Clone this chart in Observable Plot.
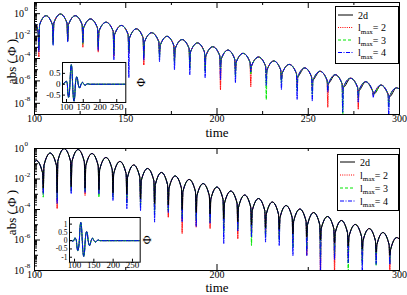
<!DOCTYPE html>
<html><head><meta charset="utf-8">
<script src="https://cdn.jsdelivr.net/npm/d3@7"></script>
<script src="https://cdn.jsdelivr.net/npm/@observablehq/plot@0.6"></script>
<style>
body{margin:0;background:#fff;}
#wrap{position:relative;width:407px;height:295px;overflow:hidden;font-family:'Liberation Serif','DejaVu Serif',serif;}
.abs{position:absolute;}
#wrap svg, #wrap svg text{font-family:'Liberation Serif','DejaVu Serif',serif !important;}
</style></head><body><div id="wrap"></div>
<script>
// ---------- DATA ----------
// Top panel: shared arch points [time, log10|Phi|]
const topEnvelope = [
[100,-0.85],[101.2,-1.1],[102.0,-1.7],
[102.8,-0.98],[106.3,-0.18],[109.8,-0.98],
[110.6,-0.83],[114.2,-0.03],[117.8,-0.83],
[118.6,-0.98],[122.35,-0.18],[126.1,-0.98],
[126.9,-1.27],[130.7,-0.47],[134.5,-1.27],
[135.3,-1.56],[139.2,-0.76],[143.1,-1.56],
[143.9,-1.85],[147.6,-1.05],[151.3,-1.85],
[152.1,-2.15],[155.8,-1.35],[159.5,-2.15],
[160.3,-2.5],[164.2,-1.7],[168.1,-2.5],
[168.9,-2.82],[172.6,-2.02],[176.3,-2.82],
[177.1,-3.11],[180.9,-2.31],[184.7,-3.11],
[185.5,-3.41],[189.3,-2.61],[193.1,-3.41],
[193.9,-3.75],[197.7,-2.95],[201.5,-3.75],
[202.3,-4.05],[206.0,-3.25],[209.7,-4.05],
[210.5,-4.34],[214.3,-3.54],[218.1,-4.34],
[218.9,-4.67],[222.75,-3.87],[226.6,-4.67],
[227.4,-5.02],[231.15,-4.22],[234.9,-5.02],
[235.7,-5.33],[239.6,-4.53],[243.5,-5.33],
[244.3,-5.64],[248.05,-4.84],[251.8,-5.64],
[252.6,-5.94],[256.45,-5.14],[260.3,-5.94],
[261.1,-6.25],[264.8,-5.45],[268.5,-6.25],
[269.3,-6.56],[273.15,-5.76],[277.0,-6.56],
[277.8,-6.87],[281.5,-6.07],[285.2,-6.87],
[286.0,-7.17],[289.85,-6.37],[293.7,-7.17],
[294.5,-7.42],[298.3,-6.62],[300,-6.72]
];
// Top panel: zero crossings and the log10 depth each series reaches there
const topZeros = [102.4,110.2,118.2,126.5,134.9,143.5,151.7,159.9,168.5,176.7,185.1,193.5,201.9,210.1,218.5,227.0,235.3,243.9,252.2,260.7,268.9,277.4,285.6,294.1];
const topDip2d = [-2.9,-2.4,-2.3,-2.5,-2.9,-3.3,-3.2,-3.5,-3.4,-3.8,-4.3,-4.2,-4.6,-4.9,-5.0,-5.3,-5.9,-5.7,-6.0,-6.3,-6.5,-6.9,-7.0,-7.3];
const topDipL2 = [-3.84,-2.6,-2.4,-2.99,-3.43,-3.8,-3.5,-4.57,-3.6,-4.2,-4.6,-4.8,-6.77,-5.2,-6.51,-5.6,-5.8,-6.3,-6.6,-8.35,-7.2,-8.53,-7.3,-7.8];
const topDipL3 = [-3.1,-2.75,-2.45,-2.7,-3.0,-3.6,-3.4,-3.8,-3.9,-4.4,-4.9,-5.2,-5.0,-5.6,-5.4,-7.65,-6.2,-6.9,-7.2,-6.8,-9.2,-7.5,-7.2,-8.3];
const topDipL4 = [-3.4,-2.81,-2.52,-2.6,-3.25,-4.13,-5.71,-4.13,-4.28,-5.01,-5.45,-5.71,-5.89,-6.15,-5.2,-6.4,-6.77,-7.65,-7.8,-7.0,-8.8,-7.9,-7.47,-9.2];

// Bottom panel
const botEnvelope = [
[100,-0.88],[101.0,-0.79],[104.4,-1.59],
[105.2,-1.10],[108.6,-0.30],[112.0,-1.10],
[112.8,-0.81],[116.25,-0.01],[119.7,-0.81],
[120.5,-0.87],[123.9,-0.07],[127.3,-0.87],
[128.1,-1.13],[131.5,-0.33],[134.9,-1.13],
[135.7,-1.39],[139.15,-0.59],[142.6,-1.39],
[143.4,-1.65],[146.8,-0.85],[150.2,-1.65],
[151.0,-1.88],[154.35,-1.08],[157.7,-1.88],
[158.5,-2.11],[161.95,-1.31],[165.4,-2.11],
[166.2,-2.37],[169.55,-1.57],[172.9,-2.37],
[173.7,-2.60],[177.1,-1.80],[180.5,-2.60],
[181.3,-2.83],[184.75,-2.03],[188.2,-2.83],
[189.0,-3.10],[192.4,-2.30],[195.8,-3.10],
[196.6,-3.33],[199.95,-2.53],[203.3,-3.33],
[204.1,-3.59],[207.55,-2.79],[211.0,-3.59],
[211.8,-3.85],[215.15,-3.05],[218.5,-3.85],
[219.3,-4.08],[222.75,-3.28],[226.2,-4.08],
[227.0,-4.31],[230.35,-3.51],[233.7,-4.31],
[234.5,-4.54],[237.85,-3.74],[241.2,-4.54],
[242.0,-4.77],[245.4,-3.97],[248.8,-4.77],
[249.6,-5.00],[252.95,-4.20],[256.3,-5.00],
[257.1,-5.26],[260.55,-4.46],[264.0,-5.26],
[264.8,-5.52],[268.15,-4.72],[271.5,-5.52],
[272.3,-5.78],[275.75,-4.98],[279.2,-5.78],
[280.0,-6.05],[283.4,-5.25],[286.8,-6.05],
[287.6,-6.31],[290.95,-5.51],[294.3,-6.31],
[295.1,-6.64],[298.5,-5.84],[300,-5.95]
];
const botZeros = [104.8,112.4,120.1,127.7,135.3,143.0,150.6,158.1,165.8,173.3,180.9,188.6,196.2,203.7,211.4,218.9,226.6,234.1,241.6,249.2,256.7,264.4,271.9,279.6,287.2,294.7];
const botDip2d = [-2.6,-2.9,-2.5,-2.6,-2.7,-2.9,-3.0,-3.3,-3.6,-3.7,-4.0,-4.2,-4.3,-4.6,-4.8,-5.0,-5.2,-5.3,-5.6,-5.8,-6.0,-6.2,-6.4,-6.6,-6.8,-7.0];
const botDipL2 = [-2.9,-3.93,-2.7,-3.08,-2.9,-3.1,-3.4,-3.6,-4.0,-4.5,-5.57,-5.16,-5.25,-5.2,-5.9,-5.6,-5.6,-5.8,-6.2,-7.0,-8.2,-8.2,-7.2,-7.4,-7.3,-8.2];
const botDipL3 = [-3.19,-3.3,-2.8,-2.8,-3.19,-3.2,-3.6,-3.8,-4.3,-4.1,-4.5,-4.7,-4.8,-5.5,-5.3,-6.36,-5.8,-6.0,-6.5,-6.6,-7.2,-7.0,-8.2,-7.6,-7.67,-7.5];
const botDipL4 = [-3.0,-3.6,-2.95,-2.9,-3.0,-3.41,-3.95,-4.07,-4.83,-4.2,-4.8,-5.1,-4.9,-6.23,-5.4,-5.8,-6.14,-6.36,-7.02,-7.02,-8.2,-7.3,-7.5,-8.2,-7.6,-7.6];

// Insets: [time, Phi]
const topInset = [[88,0],[91,0.02],[94,0.06],[97,0.12],[99.5,0.14],[101,0.1],[102.4,0],[104.3,-0.45],[106.3,-0.6],[108.3,-0.45],[110.2,0],[112.2,0.68],[114.2,0.9],[116.2,0.68],[118.2,0],[120.3,-0.6],[122.3,-0.78],[124.4,-0.6],[126.5,0],[128.6,0.26],[130.7,0.34],[132.8,0.26],[134.9,0],[139.2,-0.17],[143.5,0],[147.6,0.09],[151.7,0],[155.8,-0.045],[159.9,0],[164.2,0.02],[168.5,0],[277,0]];
const botInset = [[87,0],[92,0.01],[96,-0.04],[99,0.05],[101,0.17],[103,0.12],[104.8,0],[106.7,-0.45],[108.6,-0.6],[110.5,-0.45],[112.4,0],[114.3,0.8],[116.25,1.1],[118.2,0.8],[120.1,0],[122,-0.7],[123.9,-0.95],[125.8,-0.7],[127.7,0],[129.6,0.42],[131.5,0.55],[133.4,0.42],[135.3,0],[139.15,-0.3],[143,0],[146.8,0.15],[150.6,0],[154.35,-0.08],[158.1,0],[161.95,0.04],[165.8,0],[270,0]];

// Tick labels
const topXLabels = [100,150,200,250,300];
const topXMinor = [125,175,225,275];
const botXLabels = [100,200,300];
const botXMinor = [150,250];
const yLabelExps = [0,-2,-4,-6,-8];
const topInsetX = [100,150,200,250];
const topInsetY = [0.5,0,-0.5];
const botInsetX = [100,150,200,250];
const botInsetY = [1,0.5,0,-0.5,-1];
const legendLabels = ["2d","2","3","4"];
const seriesKeys = ["2d","l2","l3","l4"];

// ---------- STYLES ----------
const FONT = "'Liberation Serif','DejaVu Serif',serif";
const styles = {
  "2d": {stroke:"#000000"},
  "l2": {stroke:"#ff0000", strokeDasharray:"1,1.2"},
  "l3": {stroke:"#00e600", strokeDasharray:"3,2"},
  "l4": {stroke:"#0000ff", strokeDasharray:"4,1.5,1,1.5"}
};
const T = {fill:"black", fontFamily: FONT};

function buildSeries(envelope, zeros, dips) {
  return envelope.map(([t,l]) => ({t, v: 10 ** l}))
    .concat(zeros.map((t,i) => ({t, v: 10 ** dips[i]})))
    .sort((a,b) => a.t - b.t);
}

function mainPanel({envelope, zeros, dips, order, yDomain, xLabels, xMinor, height, marginTop, marginBottom, timeDy}) {
  const W = 407, ML = 34, MR = 8;
  const innerW = W - ML - MR, innerH = height - marginTop - marginBottom;
  const lo = Math.round(Math.log10(yDomain[0])), hi = Math.round(Math.log10(yDomain[1]));
  const minor = [];
  for (let e = lo; e < hi; e++) for (let k = 2; k <= 9; k++) minor.push(k * 10 ** e);
  const oddDec = d3.range(lo, hi + 1).filter(e => !yLabelExps.includes(e)).map(e => 10 ** e);
  const lab = yLabelExps.map(e => 10 ** e);
  const marks = [];
  for (const s of order) {
    marks.push(Plot.line(buildSeries(envelope, zeros, dips[s]), {x:"t", y:"v", curve:"monotone-x", clip:true, strokeWidth:1, ...styles[s]}));
  }
  marks.push(
    Plot.tickY(minor, {y: d => d, insetRight: innerW - 3, stroke:"black"}),
    Plot.tickY(oddDec, {y: d => d, insetRight: innerW - 4, stroke:"black"}),
    Plot.tickY(lab, {y: d => d, insetRight: innerW - 6, stroke:"black"}),
    Plot.tickX(xMinor, {x: d => d, insetTop: innerH - 3, stroke:"black"}),
    Plot.tickX(xMinor, {x: d => d, insetBottom: innerH - 3, stroke:"black"}),
    Plot.tickX(xLabels, {x: d => d, insetTop: innerH - 6, stroke:"black"}),
    Plot.tickX(xLabels, {x: d => d, insetBottom: innerH - 6, stroke:"black"}),
    Plot.text(yLabelExps, {y: e => 10 ** e, text: () => "10", frameAnchor:"left", textAnchor:"end", dx:-10.5, fontSize:10, ...T}),
    Plot.text(yLabelExps, {y: e => 10 ** e, text: e => String(e), frameAnchor:"left", textAnchor:"start", dx:-10, dy:-4.5, fontSize:7, ...T}),
    Plot.text(xLabels, {x: d => d, text: d => String(d), frameAnchor:"bottom", textAnchor:"middle", dy:7.5, fontSize:10, ...T}),
    Plot.text(["time"], {text: d => d, frameAnchor:"middle", textAnchor:"middle", dy: innerH / 2 + timeDy, fontSize:13, ...T}),
    Plot.text(["abs ( \u03A6 )"], {text: d => d, frameAnchor:"middle", textAnchor:"middle", rotate:-90, dx: -(innerW / 2 + 23), dy: 3, fontSize:13, ...T}),
    Plot.frame({stroke:"black"})
  );
  return Plot.plot({
    width: W, height, marginLeft: ML, marginRight: MR, marginTop, marginBottom,
    x: {domain:[100,300], axis:null},
    y: {type:"log", domain: yDomain, axis:null},
    style: {fontFamily: FONT, background:"transparent", overflow:"visible"},
    marks
  });
}

function insetPanel({data, xDomain, yDomain, xTicks, yTicks, fw, fh, ml, mr, mt, mb, phiDx, xdy, yfs}) {
  const marks = [Plot.frame({fill:"white", stroke:null})];
  for (const s of ["2d","l3","l4"]) {
    marks.push(Plot.line(data, {x: d => d[0], y: d => d[1], curve:"monotone-x", clip:true, strokeWidth:1, ...styles[s]}));
  }
  marks.push(
    Plot.tickX(xTicks, {x: d => d, insetTop: fh - 3, stroke:"black"}),
    Plot.tickY(yTicks, {y: d => d, insetRight: fw - 3, stroke:"black"}),
    Plot.text(xTicks, {x: d => d, text: d => String(d), frameAnchor:"bottom", textAnchor:"middle", dy: xdy, fontSize:9, ...T}),
    Plot.text(yTicks, {y: d => d, text: d => String(d), frameAnchor:"left", textAnchor:"end", dx:-2, fontSize:yfs, ...T}),
    Plot.text(["\u03A6"], {text: d => d, frameAnchor:"middle", textAnchor:"middle", dx: fw / 2 + phiDx, rotate:-90, fontSize:12, ...T}),
    Plot.frame({stroke:"black"})
  );
  return Plot.plot({
    width: ml + fw + mr, height: mt + fh + mb, marginLeft: ml, marginRight: mr, marginTop: mt, marginBottom: mb,
    x: {domain: xDomain, axis:null}, y: {domain: yDomain, axis:null},
    style: {fontFamily: FONT, background:"transparent", overflow:"visible"},
    marks
  });
}

function place(el, left, topPx) {
  const d = document.createElement("div");
  d.className = "abs"; d.style.left = left + "px"; d.style.top = topPx + "px";
  d.appendChild(el);
  document.getElementById("wrap").appendChild(d);
}

function legend(left, topPx, w, h, rows) {
  const svg = d3.create("svg").attr("width", w + 1).attr("height", h + 1).style("display", "block");
  svg.append("rect").attr("x", 0.5).attr("y", 0.5).attr("width", w).attr("height", h).attr("fill", "white").attr("stroke", "black");
  seriesKeys.forEach((k, i) => {
    const y = rows[i];
    const st = styles[k];
    svg.append("line").attr("x1", 3).attr("x2", 18).attr("y1", y).attr("y2", y)
      .attr("stroke", st.stroke).attr("stroke-dasharray", st.strokeDasharray || null);
    const t = svg.append("text").attr("x", 23).attr("y", y + 3.5).attr("font-size", 10).attr("fill", "black");
    if (k === "2d") t.text(legendLabels[i]);
    else {
      t.append("tspan").text("l");
      t.append("tspan").attr("font-size", 7).attr("dy", 2.5).text("max");
      t.append("tspan").attr("dy", -2.5).text("= " + legendLabels[i]);
    }
  });
  place(svg.node(), left, topPx);
}

const topPanelSvg = mainPanel({
  envelope: topEnvelope, zeros: topZeros,
  dips: {"2d": topDip2d, l2: topDipL2, l3: topDipL3, l4: topDipL4},
  order: ["2d","l2","l3","l4"], yDomain: [1e-9, 1e1],
  xLabels: topXLabels, xMinor: topXMinor, height: 140, marginTop: 2, marginBottom: 26, timeDy: 18.5
});
place(topPanelSvg, 0, 0);
const botPanelSvg = mainPanel({
  envelope: botEnvelope, zeros: botZeros,
  dips: {"2d": botDip2d, l2: botDipL2, l3: botDipL3, l4: botDipL4},
  order: ["l2","l3","l4","2d"], yDomain: [1e-8, 1e0],
  xLabels: botXLabels, xMinor: botXMinor, height: 155, marginTop: 8, marginBottom: 25, timeDy: 17.5
});
place(botPanelSvg, 0, 140);

place(insetPanel({data: topInset, xDomain:[88,277], yDomain:[-0.84,1.0], xTicks: topInsetX, yTicks: topInsetY,
  fw: 63.3, fh: 40, ml: 20, mr: 22, mt: 2, mb: 12, phiDx: 15.7, xdy: 7.5, yfs: 9}), 41.7, 59.7);
place(insetPanel({data: botInset, xDomain:[87,270], yDomain:[-1.3,1.4], xTicks: botInsetX, yTicks: botInsetY,
  fw: 70.7, fh: 44.7, ml: 20, mr: 14, mt: 2, mb: 10, phiDx: 7, xdy: 5.5, yfs: 7.5}), 49.3, 215);

legend(335, 6, 63, 57, [9, 21.5, 34, 46.5]);
legend(337, 154, 61, 56, [8, 21, 34, 47]);
</script></body></html>
